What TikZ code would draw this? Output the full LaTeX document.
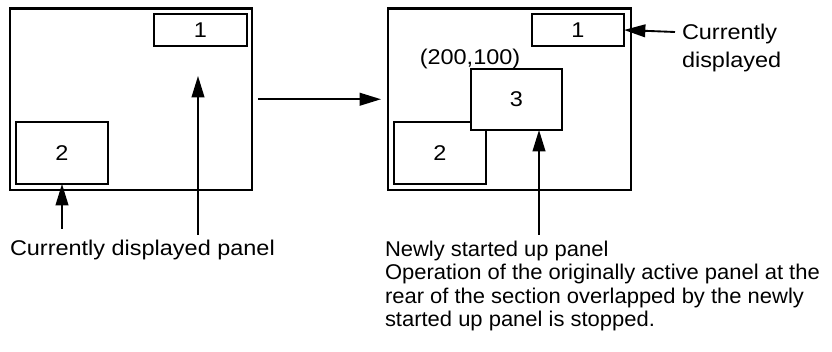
\documentclass[tikz,border=0pt]{standalone}
\usepackage{fontspec}
\setmainfont{Liberation Sans}[FakeStretch=1.1]
\newfontfamily\parafont{Liberation Sans}[FakeStretch=1.03]
\usetikzlibrary{arrows.meta}
\begin{document}
\begin{tikzpicture}[x=0.75pt,y=-0.75pt,
  every node/.style={font=\fontsize{16}{19}\selectfont},
  frame/.style={draw,line width=1.7pt,inner sep=0pt,outer sep=0pt,minimum width=#1},
  panel/.style={draw,line width=1.7pt,fill=white,inner sep=0pt,outer sep=0pt},
  lbl/.style={inner sep=0pt,outer sep=0pt,anchor=base west},
  para/.style={lbl,font=\parafont\fontsize{16}{19}\selectfont},
  arr/.style={line width=1.4pt,-{Triangle[length=16pt,width=9.5pt]}}]
\useasboundingbox (0,0) rectangle (832,352);
% left screen
\node[frame=181.5pt,minimum height=136.1pt] (L) at (131,99.25) {};
\node[panel,minimum width=69.75pt,minimum height=24pt] (L1) at (200.5,30) {1};
\node[panel,minimum width=69pt,minimum height=46.5pt] (L2) at (62,153) {2};
% right screen
\node[frame=182.25pt,minimum height=136.1pt] (R) at (509.5,99.25) {};
\node[panel,minimum width=69pt,minimum height=24pt] (R1) at (578,30) {1};
\node[panel,minimum width=69pt,minimum height=46.5pt] (R2) at (440,153) {2};
\node[panel,minimum width=68.25pt,minimum height=45.75pt] (R3) at (516.5,99.5) {3};
\node[inner sep=0pt,anchor=base] (pos) at (470,65) {(200,100)};
% labels
\node[lbl] (cdp) at (10,256) {Currently displayed panel};
\node[para] (nsp1) at (385,256.5) {Newly started up panel};
\node[para] (nsp2) at (385,280) {Operation of the originally active panel at the};
\node[para] (nsp3) at (385,303.5) {rear of the section overlapped by the newly};
\node[para] (nsp4) at (385,327) {started up panel is stopped.};
\node[lbl] (cd1) at (682,40) {Currently};
\node[lbl] (cd2) at (682,68) {displayed};
% connectors
\coordinate (a1s) at (62,229);
\draw[arr] (a1s) -- (L2.south);
\coordinate (a2s) at (198,235);
\coordinate (a2e) at (198,76);
\draw[arr] (a2s) -- (a2e);
\draw[arr,shorten <=4.5pt,shorten >=5.25pt] (L.east) -- (R.west);
\coordinate (a3s) at (539,235);
\draw[arr] (a3s) -- (a3s |- R3.south);
\coordinate (a4s) at (675,32);
\draw[arr] (a4s) -- (R1.east);
\end{tikzpicture}
\end{document}
